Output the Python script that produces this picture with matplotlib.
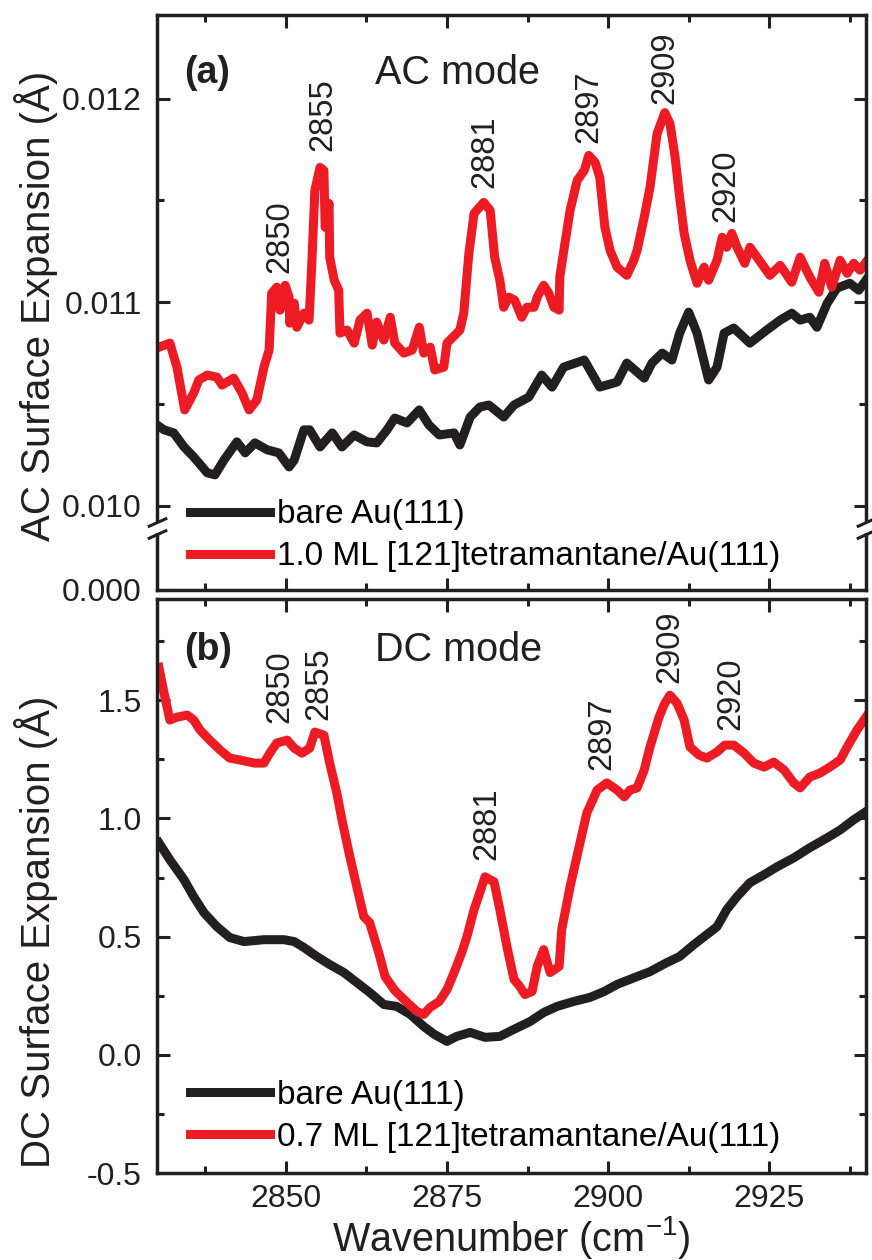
import numpy as np
import matplotlib
matplotlib.use("Agg")
import matplotlib.pyplot as plt
from matplotlib.ticker import FixedLocator, FixedFormatter

plt.rcParams['font.family'] = ['Liberation Sans', 'DejaVu Sans']
plt.rcParams['mathtext.default'] = 'regular'

RED = '#ED1C24'
BLK = '#231F20'

# ---- (a) AC mode, values in 1e-3 Angstrom ----
ac_red_x = [2830.0, 2832.0, 2833.1, 2834.3, 2835.7, 2836.5, 2837.8, 2839.3, 2840.1, 2841.9,
            2843.2, 2844.3, 2845.5, 2846.6, 2847.4, 2847.8, 2848.6, 2849.1, 2849.9, 2850.5,
            2850.6, 2851.3, 2851.7, 2852.8, 2853.6, 2854.0, 2854.5, 2855.3, 2855.9, 2856.1,
            2856.7, 2856.8, 2857.5, 2858.2, 2858.4, 2859.5, 2860.6, 2861.5, 2862.6, 2863.4,
            2864.1, 2865.2, 2866.2, 2866.9, 2868.3, 2869.6, 2870.7, 2871.4, 2872.4, 2873.1,
            2874.5, 2875.0, 2877.0, 2877.6, 2878.4, 2879.2, 2880.7, 2881.7, 2882.4, 2883.2,
            2883.8, 2884.6, 2885.5, 2886.6, 2887.4, 2888.5, 2889.0, 2890.0, 2890.8, 2891.6,
            2892.4, 2892.5, 2893.3, 2894.1, 2895.2, 2896.3, 2897.0, 2898.0, 2898.7, 2899.5,
            2900.3, 2901.4, 2902.9, 2904.0, 2904.5, 2905.6, 2906.5, 2907.6, 2908.8, 2909.6,
            2910.4, 2911.1, 2911.8, 2912.7, 2913.8, 2914.9, 2915.6, 2916.9, 2917.7, 2918.4,
            2919.2, 2920.0, 2921.2, 2922.0, 2923.1, 2924.2, 2925.1, 2926.7, 2928.5, 2929.8,
            2931.3, 2932.7, 2933.6, 2934.7, 2936.0, 2937.1, 2938.1, 2939.1, 2940.0]
ac_red_y = [10.775, 10.799, 10.681, 10.471, 10.554, 10.618, 10.642, 10.632, 10.593, 10.627,
            10.554, 10.471, 10.520, 10.681, 10.765, 11.044, 11.074, 10.961, 11.083, 11.025,
            10.897, 10.995, 10.877, 10.946, 10.912, 11.172, 11.549, 11.662, 11.647, 11.368,
            11.485, 11.221, 11.108, 11.059, 10.848, 10.863, 10.799, 10.912, 10.946, 10.789,
            10.902, 10.814, 10.926, 10.799, 10.750, 10.765, 10.877, 10.750, 10.779, 10.667,
            10.681, 10.799, 10.863, 10.946, 11.240, 11.436, 11.490, 11.451, 11.221, 11.108,
            10.975, 11.025, 11.010, 10.926, 10.975, 10.975, 11.025, 11.083, 11.044, 10.975,
            10.961, 11.123, 11.289, 11.451, 11.598, 11.647, 11.721, 11.686, 11.613, 11.368,
            11.255, 11.172, 11.132, 11.206, 11.255, 11.417, 11.564, 11.828, 11.931, 11.877,
            11.711, 11.515, 11.338, 11.206, 11.093, 11.172, 11.108, 11.206, 11.319, 11.270,
            11.338, 11.270, 11.191, 11.270, 11.221, 11.172, 11.132, 11.181, 11.098, 11.221,
            11.123, 11.049, 11.191, 11.074, 11.206, 11.142, 11.191, 11.157, 11.196]

ac_blk_x = [2830.0, 2831.1, 2832.6, 2834.2, 2835.7, 2837.8, 2839.0, 2840.4, 2842.4, 2843.7,
            2845.2, 2847.1, 2848.9, 2850.5, 2851.3, 2852.8, 2853.7, 2855.3, 2857.2, 2858.7,
            2860.6, 2862.6, 2864.1, 2865.7, 2866.9, 2868.8, 2870.7, 2872.2, 2873.8, 2876.1,
            2877.0, 2878.6, 2880.1, 2881.5, 2883.8, 2885.4, 2887.7, 2889.7, 2891.3, 2893.1,
            2896.3, 2898.7, 2901.4, 2902.9, 2904.5, 2905.6, 2906.8, 2908.4, 2909.9, 2911.1,
            2912.5, 2913.8, 2915.6, 2916.9, 2918.0, 2919.5, 2922.0, 2924.6, 2926.7, 2928.5,
            2929.8, 2931.3, 2932.4, 2934.0, 2935.5, 2937.5, 2938.9, 2940.0]
ac_blk_y = [10.397, 10.373, 10.358, 10.289, 10.240, 10.162, 10.152, 10.225, 10.314, 10.260,
            10.309, 10.275, 10.260, 10.191, 10.225, 10.373, 10.373, 10.289, 10.358, 10.289,
            10.348, 10.314, 10.309, 10.373, 10.431, 10.407, 10.471, 10.397, 10.348, 10.358,
            10.299, 10.436, 10.485, 10.495, 10.436, 10.495, 10.534, 10.642, 10.583, 10.681,
            10.716, 10.583, 10.608, 10.701, 10.657, 10.627, 10.701, 10.750, 10.716, 10.848,
            10.951, 10.848, 10.618, 10.681, 10.848, 10.873, 10.799, 10.863, 10.912, 10.946,
            10.912, 10.926, 10.877, 10.995, 11.069, 11.093, 11.059, 11.108]

# ---- (b) DC mode, Angstrom ----
dc_red_x = [2830.3, 2831.1, 2832.0, 2833.1, 2834.7, 2835.7, 2836.7, 2838.2, 2839.8, 2841.3,
            2842.9, 2845.1, 2846.6, 2847.5, 2848.6, 2850.2, 2851.3, 2852.5, 2853.7, 2854.5,
            2855.9, 2856.8, 2857.9, 2858.7, 2859.8, 2861.0, 2862.1, 2863.0, 2864.4, 2865.4,
            2866.8, 2867.2, 2868.8, 2870.3, 2871.4, 2872.4, 2873.8, 2875.0, 2876.1, 2877.3,
            2878.1, 2879.2, 2880.1, 2880.9, 2882.3, 2883.2, 2884.3, 2885.4, 2886.3, 2887.1,
            2888.2, 2889.0, 2890.0, 2891.0, 2892.4, 2892.8, 2894.1, 2895.5, 2896.7, 2898.3,
            2899.8, 2901.4, 2902.5, 2903.4, 2904.5, 2905.6, 2906.5, 2907.9, 2908.8, 2909.6,
            2910.7, 2911.8, 2912.7, 2914.1, 2915.3, 2916.9, 2918.1, 2919.5, 2921.1, 2922.6,
            2924.2, 2925.7, 2927.3, 2928.8, 2929.8, 2931.3, 2932.9, 2934.4, 2936.0, 2937.1,
            2938.6, 2940.0]
dc_red_y = [1.639, 1.530, 1.416, 1.428, 1.437, 1.416, 1.373, 1.331, 1.289, 1.255,
            1.247, 1.234, 1.234, 1.276, 1.319, 1.331, 1.297, 1.276, 1.297, 1.365,
            1.352, 1.234, 1.108, 0.994, 0.854, 0.711, 0.584, 0.559, 0.433, 0.331,
            0.276, 0.264, 0.222, 0.184, 0.171, 0.201, 0.226, 0.276, 0.348, 0.433,
            0.500, 0.614, 0.686, 0.753, 0.732, 0.614, 0.458, 0.319, 0.289, 0.255,
            0.268, 0.374, 0.445, 0.348, 0.374, 0.530, 0.711, 0.880, 1.023, 1.120,
            1.150, 1.120, 1.091, 1.120, 1.129, 1.205, 1.302, 1.428, 1.487, 1.521,
            1.487, 1.416, 1.302, 1.268, 1.255, 1.281, 1.310, 1.310, 1.276, 1.234,
            1.217, 1.238, 1.205, 1.150, 1.129, 1.175, 1.192, 1.217, 1.247, 1.302,
            1.373, 1.428]

dc_blk_x = [2830.3, 2832.0, 2834.2, 2835.7, 2837.3, 2839.3, 2841.3, 2843.5, 2846.6, 2849.7,
            2851.3, 2852.8, 2854.8, 2856.8, 2859.0, 2861.0, 2863.0, 2865.2, 2867.2, 2869.3,
            2871.4, 2873.0, 2875.0, 2876.5, 2878.6, 2880.9, 2883.2, 2885.4, 2887.9, 2890.0,
            2892.1, 2894.7, 2897.2, 2899.4, 2901.4, 2904.5, 2906.5, 2909.1, 2911.1, 2913.3,
            2915.3, 2916.9, 2918.4, 2920.0, 2922.0, 2924.2, 2926.2, 2928.8, 2931.3, 2934.0,
            2936.0, 2938.1, 2939.7]
dc_blk_y = [0.897, 0.825, 0.741, 0.669, 0.601, 0.542, 0.496, 0.479, 0.487, 0.487,
            0.479, 0.454, 0.416, 0.382, 0.348, 0.306, 0.264, 0.213, 0.205, 0.171,
            0.120, 0.087, 0.057, 0.078, 0.095, 0.074, 0.078, 0.108, 0.141, 0.179,
            0.205, 0.226, 0.243, 0.268, 0.298, 0.331, 0.352, 0.390, 0.416, 0.466,
            0.508, 0.542, 0.614, 0.669, 0.728, 0.762, 0.795, 0.833, 0.876, 0.918,
            0.951, 0.994, 1.023]

peak_labels = ['2850', '2855', '2881', '2897', '2909', '2920']
ac_peak_x = [2849.1, 2855.8, 2880.9, 2897.0, 2908.8, 2918.3]
ac_peak_y = [11.142, 11.745, 11.559, 11.784, 11.975, 11.392]
dc_peak_x = [2849.1, 2855.1, 2881.2, 2899.0, 2909.6, 2919.1]
dc_peak_y = [1.403, 1.416, 0.825, 1.205, 1.572, 1.373]

xticks = [2850, 2875, 2900, 2925]
xminor = [2837.5, 2862.5, 2887.5, 2912.5, 2937.5]

# broken y scale for the AC panel: everything below brk is squeezed
brk = 0.00985
squeeze = 0.0266


def fwd(v):
    v = np.asarray(v, dtype=float)
    return np.where(v >= brk, v, brk - (brk - v) * squeeze)


def inv(u):
    u = np.asarray(u, dtype=float)
    return np.where(u >= brk, u, brk - (brk - u) / squeeze)


fig = plt.figure(figsize=(8.72, 12.6), dpi=100)
ax1 = fig.add_axes([0.180, 0.532, 0.813, 0.456])
ax2 = fig.add_axes([0.180, 0.069, 0.813, 0.456])

lw = 6.5
ax1.plot(ac_blk_x, np.array(ac_blk_y) * 1e-3, color=BLK, lw=lw, label='bare Au(111)')
ax1.plot(ac_red_x, np.array(ac_red_y) * 1e-3, color=RED, lw=lw,
         label='1.0 ML [121]tetramantane/Au(111)')
ax2.plot(dc_blk_x, dc_blk_y, color=BLK, lw=lw, label='bare Au(111)')
ax2.plot(dc_red_x, dc_red_y, color=RED, lw=lw,
         label='0.7 ML [121]tetramantane/Au(111)')

ax1.set_yscale('function', functions=(fwd, inv))
ax1.set_ylim(0, 0.01241)
ax1.yaxis.set_major_locator(FixedLocator([0, 0.010, 0.011, 0.012]))
ax1.yaxis.set_major_formatter(FixedFormatter(['0.000', '0.010', '0.011', '0.012']))
ax1.yaxis.set_minor_locator(FixedLocator([0.0105, 0.0115]))

ax2.set_ylim(-0.5, 1.93)
ax2.set_yticks([-0.5, 0.0, 0.5, 1.0, 1.5])
ax2.set_yticklabels(['-0.5', '0.0', '0.5', '1.0', '1.5'])
ax2.set_yticks(np.arange(-0.25, 1.9, 0.5), minor=True)

for ax in (ax1, ax2):
    ax.set_xlim(2830, 2940)
    ax.set_xticks(xticks)
    ax.set_xticks(xminor, minor=True)
    for s in ax.spines.values():
        s.set_linewidth(2.5)
        s.set_color(BLK)
    ax.tick_params(which='both', direction='in', top=True, right=True,
                   width=2.2, color=BLK, labelcolor=BLK, labelsize=23)
    ax.tick_params(which='major', length=9)
    ax.tick_params(which='minor', length=5)
    ax.tick_params(axis='y', pad=11)
    ax.tick_params(axis='x', pad=8)
ax1.tick_params(labelbottom=False)

# break marks on both vertical spines
ytr = ax1.get_yaxis_transform()
for xs in (0, 1):
    ax1.plot([xs, xs], [0.009866, 0.009914], transform=ytr, color='white', lw=6,
             solid_capstyle='butt', clip_on=False, zorder=5)
    ax1.plot([xs, xs], [0.009860, 0.009920], transform=ytr, linestyle='none',
             marker=[(-1, -0.45), (1, 0.45)], ms=14, mew=2.2, color=BLK,
             clip_on=False, zorder=6)

for lab, px, py in zip(peak_labels, ac_peak_x, ac_peak_y):
    ax1.text(px, py * 1e-3, lab, rotation=90, ha='center', va='bottom',
             fontsize=23.5, color=BLK)
for lab, px, py in zip(peak_labels, dc_peak_x, dc_peak_y):
    ax2.text(px, py, lab, rotation=90, ha='center', va='bottom',
             fontsize=23.5, color=BLK)

ax1.text(0.038, 0.90, '(a)', transform=ax1.transAxes, fontsize=27,
         fontweight='bold', va='center', color=BLK)
ax1.text(0.307, 0.90, 'AC mode', transform=ax1.transAxes, fontsize=28.5,
         va='center', color=BLK)
ax2.text(0.038, 0.91, '(b)', transform=ax2.transAxes, fontsize=27,
         fontweight='bold', va='center', color=BLK)
ax2.text(0.307, 0.91, 'DC mode', transform=ax2.transAxes, fontsize=28.5,
         va='center', color=BLK)

ax1.set_ylabel('AC Surface Expansion (Å)', fontsize=29, color=BLK)
ax1.yaxis.set_label_coords(-0.14, 0.494)
ax2.set_ylabel('DC Surface Expansion (Å)', fontsize=29, color=BLK)
ax2.yaxis.set_label_coords(-0.14, 0.42)
ax2.set_xlabel('Wavenumber (cm$^{-1}$)', fontsize=28.5, color=BLK, labelpad=0)

for ax, yb in ((ax1, 0.03), (ax2, 0.035)):
    ax.legend(loc='lower left', bbox_to_anchor=(0.047, yb), frameon=False,
              fontsize=24, handlelength=2.4, handletextpad=0.2,
              labelspacing=0.33, borderpad=0, borderaxespad=0)

fig.savefig('out.png', dpi=100)
